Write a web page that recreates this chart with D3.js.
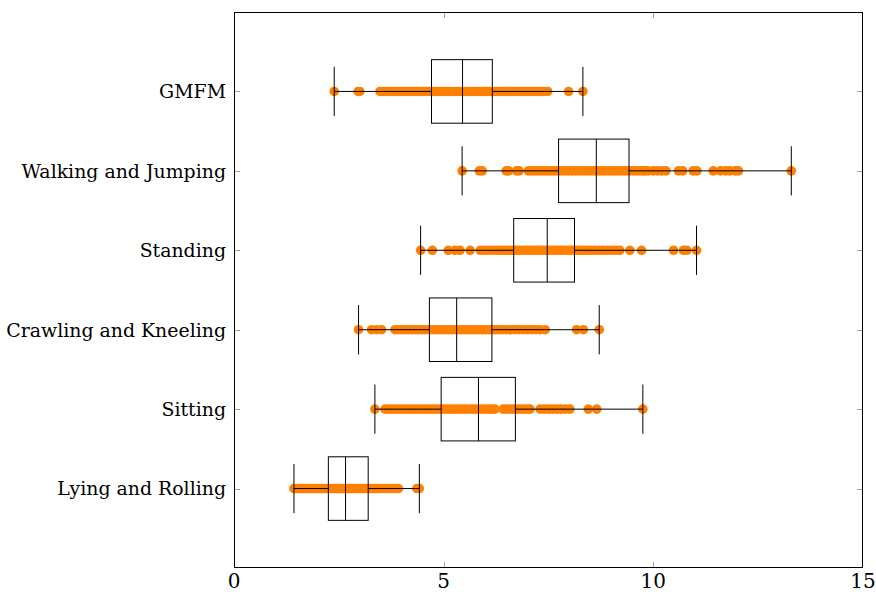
<!DOCTYPE html>
<meta charset="utf-8">
<script src="https://d3js.org/d3.v7.min.js"></script>
<style>
  body { margin: 0; background: white; }
</style>
<div id="chart"></div>
<script>
// categories, bottom to top
const categories = ["Lying and Rolling", "Sitting", "Crawling and Kneeling", "Standing", "Walking and Jumping", "GMFM"];

// box stats: [low whisker, q1, median, q3, high whisker]
const lying_box    = [1.43, 2.25, 2.66, 3.20, 4.42];
const sitting_box  = [3.36, 4.94, 5.83, 6.71, 9.75];
const crawling_box = [2.97, 4.66, 5.31, 6.15, 8.71];
const standing_box = [4.45, 6.67, 7.47, 8.12, 11.03];
const walking_box  = [5.44, 7.74, 8.64, 9.42, 13.29];
const gmfm_box     = [2.39, 4.71, 5.45, 6.16, 8.32];

// individual scores
const lying_pts = [1.43, 1.5, 1.56, 1.62, 1.68, 1.74, 1.8, 1.86, 1.92, 1.98, 2.04, 2.1, 2.16, 2.22, 2.28, 2.34, 2.4, 2.46, 2.52, 2.58, 2.64, 2.7, 2.76, 2.82, 2.88, 2.94, 3.0, 3.06, 3.12, 3.18, 3.24, 3.3, 3.38, 3.46, 3.54, 3.62, 3.7, 3.78, 3.86, 3.92, 4.36, 4.42];
const sitting_pts = [3.36, 3.6, 3.68, 3.76, 3.84, 3.92, 4.0, 4.08, 4.16, 4.24, 4.32, 4.4, 4.48, 4.56, 4.64, 4.72, 4.8, 4.88, 4.96, 5.04, 5.12, 5.2, 5.28, 5.36, 5.44, 5.52, 5.6, 5.68, 5.76, 5.84, 5.92, 6.0, 6.08, 6.16, 6.22, 6.42, 6.5, 6.58, 6.66, 6.74, 6.82, 6.9, 6.98, 7.06, 7.3, 7.4, 7.5, 7.6, 7.7, 7.8, 7.9, 8.01, 8.45, 8.65, 9.75];
const crawling_pts = [2.97, 3.28, 3.4, 3.52, 3.84, 3.92, 4.0, 4.08, 4.16, 4.24, 4.32, 4.4, 4.48, 4.56, 4.64, 4.72, 4.8, 4.88, 4.96, 5.04, 5.12, 5.2, 5.28, 5.36, 5.44, 5.52, 5.6, 5.68, 5.76, 5.84, 5.92, 6.0, 6.08, 6.16, 6.24, 6.32, 6.4, 6.5, 6.6, 6.7, 6.8, 6.9, 7.0, 7.1, 7.2, 7.3, 7.42, 8.17, 8.33, 8.71];
const standing_pts = [4.45, 4.73, 5.11, 5.27, 5.39, 5.63, 5.87, 5.95, 6.05, 6.15, 6.25, 6.34, 6.42, 6.5, 6.58, 6.66, 6.74, 6.82, 6.9, 6.98, 7.06, 7.14, 7.22, 7.3, 7.38, 7.46, 7.54, 7.62, 7.7, 7.78, 7.86, 7.94, 8.02, 8.1, 8.18, 8.26, 8.34, 8.42, 8.5, 8.6, 8.7, 8.8, 8.9, 9.0, 9.1, 9.2, 9.44, 9.72, 10.48, 10.72, 10.8, 11.03];
const walking_pts = [5.44, 5.85, 5.92, 6.49, 6.55, 6.74, 6.8, 7.02, 7.1, 7.18, 7.26, 7.34, 7.42, 7.5, 7.58, 7.66, 7.74, 7.82, 7.9, 7.98, 8.06, 8.14, 8.22, 8.3, 8.38, 8.46, 8.54, 8.62, 8.7, 8.78, 8.86, 8.94, 9.02, 9.1, 9.18, 9.26, 9.34, 9.42, 9.5, 9.58, 9.66, 9.74, 9.8, 9.87, 10.0, 10.1, 10.2, 10.3, 10.6, 10.7, 10.95, 11.04, 11.43, 11.6, 11.72, 11.82, 11.95, 12.03, 13.29];
const gmfm_pts = [2.39, 2.96, 3.0, 3.48, 3.55, 3.62, 3.7, 3.78, 3.85, 3.93, 4.0, 4.08, 4.15, 4.22, 4.3, 4.38, 4.45, 4.52, 4.6, 4.68, 4.75, 4.82, 4.9, 4.98, 5.05, 5.12, 5.2, 5.28, 5.35, 5.42, 5.5, 5.58, 5.65, 5.72, 5.8, 5.88, 5.95, 6.02, 6.1, 6.18, 6.25, 6.32, 6.4, 6.48, 6.55, 6.62, 6.7, 6.78, 6.85, 6.92, 7.0, 7.08, 7.15, 7.22, 7.3, 7.38, 7.48, 7.98, 8.32];

const boxes = [lying_box, sitting_box, crawling_box, standing_box, walking_box, gmfm_box];
const points = [lying_pts, sitting_pts, crawling_pts, standing_pts, walking_pts, gmfm_pts];
const xTicks = [0, 5, 10, 15];

const width = 876, height = 592;
const margin = {left: 234, right: 13, top: 12, bottom: 24};
const serif = "'DejaVu Serif', serif";

const svg = d3.select("#chart").append("svg")
  .attr("width", width)
  .attr("height", height);

const x = d3.scaleLinear().domain([0, 15]).range([margin.left, width - margin.right]);
const y = d3.scaleLinear().domain([0, 7]).range([height - margin.bottom, margin.top]);

const boxHalf = 0.4, capHalf = 0.31;

// ticks (inward, grey)
const tickG = svg.append("g").attr("stroke", "#a0a0a0").attr("stroke-width", 1);
xTicks.slice(1, -1).forEach(t => {
  const px = Math.round(x(t)) + 0.5;
  tickG.append("line").attr("x1", px).attr("x2", px).attr("y1", y(0)).attr("y2", y(0) - 6);
  tickG.append("line").attr("x1", px).attr("x2", px).attr("y1", y(7)).attr("y2", y(7) + 6);
});
categories.forEach((c, i) => {
  const py = Math.round(y(i + 1)) + 0.5;
  tickG.append("line").attr("x1", x(0)).attr("x2", x(0) + 6).attr("y1", py).attr("y2", py);
  tickG.append("line").attr("x1", x(15)).attr("x2", x(15) - 6).attr("y1", py).attr("y2", py);
});

// dots
categories.forEach((c, i) => {
  svg.append("g").selectAll("circle")
    .data(points[i])
    .join("circle")
      .attr("cx", d => x(d))
      .attr("cy", y(i + 1))
      .attr("r", 4.8)
      .attr("fill", "#ff8000");
});

// boxes on top
categories.forEach((c, i) => {
  const b = boxes[i];
  const cy = y(i + 1);
  const g = svg.append("g").attr("stroke", "#000").attr("stroke-width", 1).attr("fill", "none");
  g.append("line").attr("x1", x(b[0])).attr("x2", x(b[1])).attr("y1", cy).attr("y2", cy);
  g.append("line").attr("x1", x(b[3])).attr("x2", x(b[4])).attr("y1", cy).attr("y2", cy);
  [b[0], b[4]].forEach(v => {
    g.append("line").attr("x1", x(v)).attr("x2", x(v))
      .attr("y1", y(i + 1 + capHalf)).attr("y2", y(i + 1 - capHalf));
  });
  g.append("rect")
    .attr("x", x(b[1])).attr("width", x(b[3]) - x(b[1]))
    .attr("y", y(i + 1 + boxHalf)).attr("height", y(i + 1 - boxHalf) - y(i + 1 + boxHalf));
  g.append("line").attr("x1", x(b[2])).attr("x2", x(b[2]))
    .attr("y1", y(i + 1 + boxHalf)).attr("y2", y(i + 1 - boxHalf));
});

// frame
svg.append("rect")
  .attr("x", x(0) + 0.5).attr("y", y(7) + 0.5)
  .attr("width", x(15) - x(0) - 1).attr("height", y(0) - y(7) - 1)
  .attr("fill", "none").attr("stroke", "#000").attr("stroke-width", 1);

// labels
svg.append("g").selectAll("text")
  .data(categories)
  .join("text")
    .attr("x", x(0) - 8)
    .attr("y", (d, i) => y(i + 1))
    .attr("dy", "0.36em")
    .attr("text-anchor", "end")
    .attr("font-family", serif)
    .attr("font-size", 18.9)
    .text(d => d);

svg.append("g").selectAll("text")
  .data(xTicks)
  .join("text")
    .attr("x", d => x(d))
    .attr("y", 588)
    .attr("text-anchor", "middle")
    .attr("font-family", serif)
    .attr("font-size", 20)
    .text(d => d);
</script>
